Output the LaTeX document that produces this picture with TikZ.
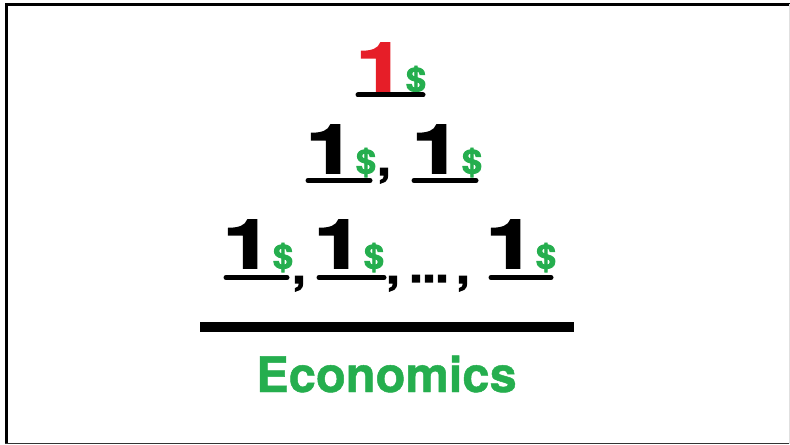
\documentclass[tikz,border=0pt]{standalone}
\usepackage{fontspec}
\usepackage{graphicx}
\usetikzlibrary{positioning}
\newfontfamily\heavyfont[FakeBold=2.5]{texgyreheros-bold.otf}
\newfontfamily\wordfont[FakeBold=1]{texgyreheros-bold.otf}
\definecolor{coinred}{HTML}{E61E28}
\definecolor{coingreen}{HTML}{25AE4E}
\newcommand{\coinsign}[1][black]{\textcolor{#1}{\scalebox{1.3}[1]{1}}\kern1bp{\fontsize{33}{33}\selectfont\scalebox{1.1}[1]{\textcolor{coingreen}{\$}}}}

\begin{document}
\begin{tikzpicture}[
        x=1bp, y=-1bp,
        coin/.style={inner sep=0pt, anchor=base, font=\heavyfont\fontsize{68}{68}\selectfont},
        punct/.style={inner sep=0pt, anchor=base, font=\heavyfont\fontsize{47}{47}\selectfont},
        uline/.style={line width=5bp, line cap=round},
        bar/.style={line width=10bp},
      ]
        \useasboundingbox (0,0) rectangle (790,445);
        % frame
        \draw[line width=3bp] (6.5,443.5) -- (6.5,4.5) -- (790,4.5);
        \draw[line width=1.5bp, black!80] (5,443.5) -- (790,443.5);
        \draw[line width=1bp, black!12] (789,4.5) -- (789,443.5);
        % top row
        \node[coin] (top) at (391,91) {\coinsign[coinred]};
        % middle row
        \node[coin] (midl) at (341,173) {\coinsign};
        \node[punct] (midc) at (384,175) {,};
        \node[coin] (midr) at (447,173) {\coinsign};
        % bottom row
        \node[coin] (lowa) at (258,268) {\coinsign};
        \node[punct] (lowc1) at (299,283) {,};
        \node[coin] (lowb) at (349,268) {\coinsign};
        \node[punct] (lowc2) at (393,283) {,};
        \node[punct] (dots) at (429,282) {...};
        \node[punct] (lowc3) at (463,283) {,};
        \node[coin] (lowz) at (521,268) {\coinsign};
        % underlines
        \draw[uline] ([xshift=-33bp,yshift=-4bp]top.base) -- ++(65,0);
        \foreach \n in {midl,midr}
          \draw[uline] ([xshift=-33bp,yshift=-7.5bp]\n.base) -- ++(62,0);
        \draw[uline] ([xshift=-32bp,yshift=-9.5bp]lowa.base) -- ++(61,0);
        \draw[uline] ([xshift=-30bp,yshift=-9.5bp]lowb.base) -- ++(65,0);
        \draw[uline] ([xshift=-30bp,yshift=-9.5bp]lowz.base) -- ++(60,0);
        % fraction bar
        \coordinate (barl) at (200,327.5);
        \coordinate (barr) at (574,327.5);
        \draw[bar] (barl) -- (barr);
        \node[coin, font=\wordfont\fontsize{49}{49}\selectfont, text=coingreen] (econ) at (386.5,392) {Economics};
      \end{tikzpicture}
\end{document}
